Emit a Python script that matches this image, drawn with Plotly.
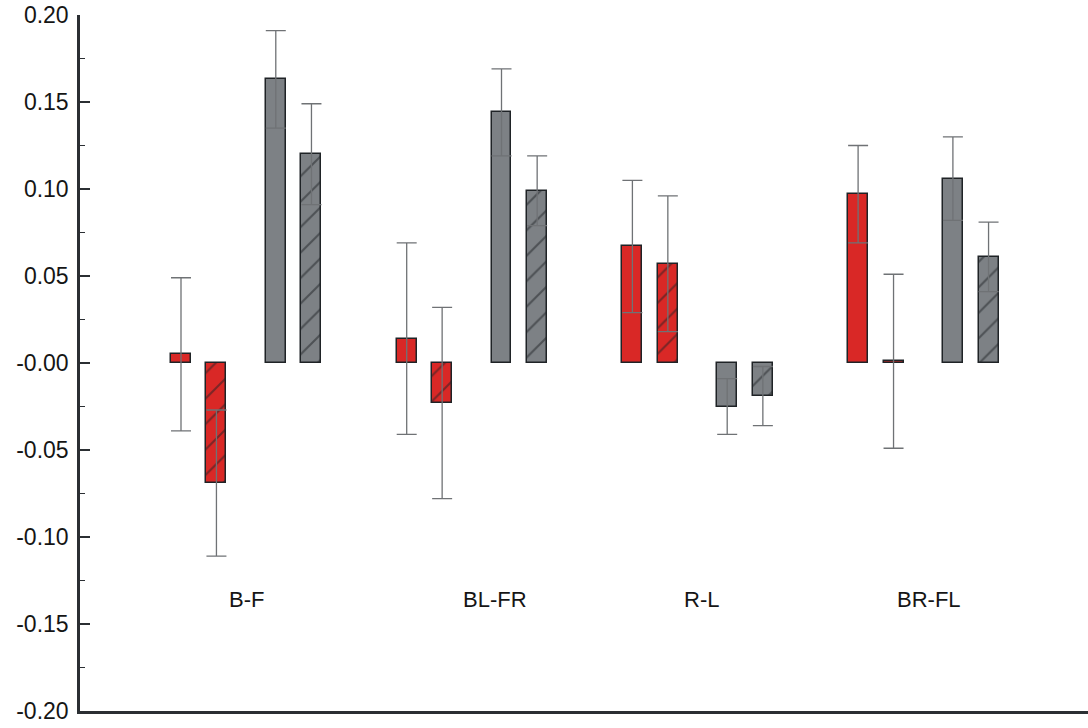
import plotly.graph_objects as go

# Contrast groups along the x axis
groups = ["B-F", "BL-FR", "R-L", "BR-FL"]

# Mean values and symmetric error for each of the four series
red_solid = [0.005, 0.014, 0.067, 0.097]
red_solid_err = [0.044, 0.055, 0.038, 0.028]

red_hatched = [-0.069, -0.023, 0.057, 0.001]
red_hatched_err = [0.042, 0.055, 0.039, 0.050]

gray_solid = [0.163, 0.144, -0.025, 0.106]
gray_solid_err = [0.028, 0.025, 0.016, 0.024]

gray_hatched = [0.120, 0.099, -0.019, 0.061]
gray_hatched_err = [0.029, 0.020, 0.017, 0.020]

# Y tick labels
tick_vals = [0.20, 0.15, 0.10, 0.05, 0.0, -0.05, -0.10, -0.15, -0.20]
tick_text = ["0.20", "0.15", "0.10", "0.05", "-0.00", "-0.05", "-0.10", "-0.15", "-0.20"]

RED = "#d92826"
GRAY = "#7d8185"
EDGE = "#1f2326"
ERR = "#6f7275"

BAR_W = 0.0885
# offset of each series inside a group (group spacing = 1)
series = [
    (red_solid, red_solid_err, RED, False, 0.0),
    (red_hatched, red_hatched_err, RED, True, 0.157),
    (gray_solid, gray_solid_err, GRAY, False, 0.42),
    (gray_hatched, gray_hatched_err, GRAY, True, 0.578),
]

fig = go.Figure()
for vals, errs, color, hatched, off in series:
    marker = dict(color=color, line=dict(color=EDGE, width=1.5))
    if hatched:
        marker["pattern"] = dict(shape="/", fgcolor="#1f2225", size=18, solidity=0.12)
    fig.add_trace(go.Bar(
        x=[i + off for i in range(len(groups))],
        y=vals,
        width=BAR_W,
        marker=marker,
        error_y=dict(type="data", array=errs, visible=True,
                     color=ERR, thickness=1.3, width=10),
        showlegend=False,
        hoverinfo="skip",
    ))

# group labels placed inside the plot area
label_shift = [0.29, 0.391, 0.308, 0.316]
for i, (name, sh) in enumerate(zip(groups, label_shift)):
    fig.add_annotation(x=i + sh, y=-0.136, text=name, showarrow=False,
                       xanchor="center", yanchor="middle",
                       font=dict(family="Liberation Sans, Arial, sans-serif",
                                 size=22, color="#151515"))

fig.update_layout(
    width=1088, height=728,
    margin=dict(l=80, r=0, t=15, b=17),
    paper_bgcolor="white", plot_bgcolor="white",
    bargap=0,
    font=dict(family="Liberation Sans, Arial, sans-serif", size=23, color="#151515"),
    xaxis=dict(range=[-0.4475, 4.0186], showline=True, linewidth=2.5,
               linecolor="#2b2f33", showticklabels=False, ticks="",
               showgrid=False, zeroline=False, fixedrange=True),
    yaxis=dict(range=[-0.2, 0.2], tickvals=tick_vals, ticktext=tick_text,
               ticks="inside", ticklen=10, tickwidth=1.5, tickcolor="#2b2f33",
               minor=dict(dtick=0.025, tick0=0, ticks="inside", ticklen=5,
                          tickwidth=1.2, tickcolor="#2b2f33"),
               showline=True, linewidth=2.5, linecolor="#2b2f33",
               showgrid=False, zeroline=False, ticklabelstandoff=4,
               fixedrange=True),
)

fig.write_html("out.html")
